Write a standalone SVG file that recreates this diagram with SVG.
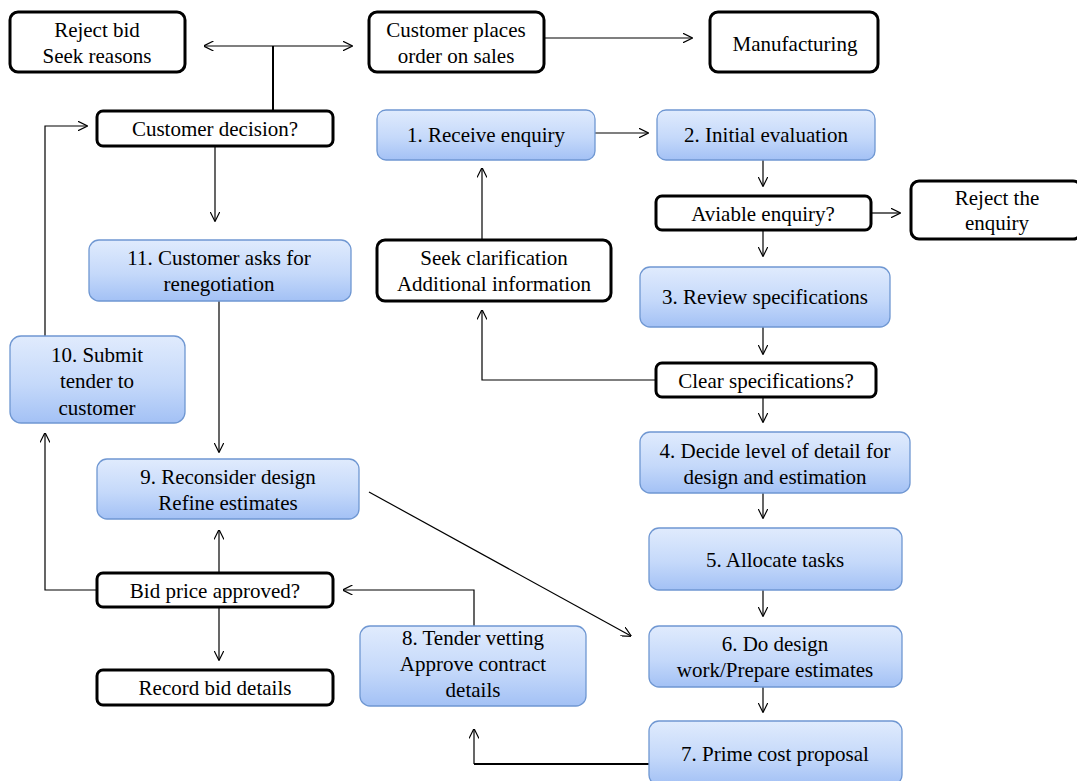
<svg xmlns="http://www.w3.org/2000/svg" width="1077" height="781" viewBox="0 0 1077 781">
  <defs>
    <linearGradient id="blueFill" x1="0" y1="0" x2="0" y2="1">
      <stop offset="0" stop-color="#e0ebfd"/>
      <stop offset="0.55" stop-color="#c5d9fa"/>
      <stop offset="1" stop-color="#a3c1f5"/>
    </linearGradient>
    <marker id="arrow" viewBox="0 0 10 10" refX="9.5" refY="5" markerWidth="10" markerHeight="10" markerUnits="userSpaceOnUse" orient="auto-start-reverse">
      <path d="M0,0 L10,5 L0,10" fill="none" stroke="#000" stroke-width="1.2"/>
    </marker>
  </defs>
  <style>
    .step { fill: url(#blueFill); stroke: #6f97d2; stroke-width: 1.3; }
    .term { fill: #fff; stroke: #000; stroke-width: 3; }
    .lbl { font-family: "Liberation Serif", "Times New Roman", serif; font-size: 21px; fill: #000; text-anchor: middle; }
    .link { fill: none; stroke: #000; stroke-width: 1.2; }
    .thick { stroke-width: 2; }
  </style>
  <rect width="1077" height="781" fill="#fff"/>

  <!-- connectors -->
  <g id="connectors">
    <path class="link thick" d="M273,111 V46"/>
    <path class="link" d="M204,46 H352" marker-start="url(#arrow)" marker-end="url(#arrow)"/>
    <path class="link" d="M544,38 H692" marker-end="url(#arrow)"/>
    <path class="link" d="M215,146 V221" marker-end="url(#arrow)"/>
    <path class="link" d="M595,133 H648" marker-end="url(#arrow)"/>
    <path class="link" d="M763,160 V186" marker-end="url(#arrow)"/>
    <path class="link" d="M871,213 H900" marker-end="url(#arrow)"/>
    <path class="link" d="M763,230 V256" marker-end="url(#arrow)"/>
    <path class="link" d="M763,327 V354" marker-end="url(#arrow)"/>
    <path class="link" d="M656,380 H482 V310" marker-end="url(#arrow)"/>
    <path class="link" d="M482,240 V168" marker-end="url(#arrow)"/>
    <path class="link" d="M763,397 V422" marker-end="url(#arrow)"/>
    <path class="link" d="M763,493 V518" marker-end="url(#arrow)"/>
    <path class="link" d="M763,590 V616" marker-end="url(#arrow)"/>
    <path class="link" d="M763,687 V712" marker-end="url(#arrow)"/>
    <path class="link thick" d="M649,764 H474"/>
    <path class="link" d="M474,764 V729" marker-end="url(#arrow)"/>
    <path class="link" d="M474,626 V590 H343" marker-end="url(#arrow)"/>
    <path class="link" d="M219,573 V530" marker-end="url(#arrow)"/>
    <path class="link" d="M219,607 V660" marker-end="url(#arrow)"/>
    <path class="link" d="M97,590 H45 V433" marker-end="url(#arrow)"/>
    <path class="link" d="M45,336 V126 H87" marker-end="url(#arrow)"/>
    <path class="link" d="M219,301 V452" marker-end="url(#arrow)"/>
    <path class="link" d="M369,492 L631,636" marker-end="url(#arrow)"/>
  </g>

  <!-- terminal / decision boxes -->
  <g id="reject-bid">
    <rect class="term" x="10" y="12" width="175" height="60" rx="8"/>
    <text class="lbl" x="97" y="37">Reject bid</text>
    <text class="lbl" x="97" y="63">Seek reasons</text>
  </g>
  <g id="customer-places-order">
    <rect class="term" x="369" y="12" width="175" height="60" rx="8"/>
    <text class="lbl" x="456" y="37">Customer places</text>
    <text class="lbl" x="456" y="63">order on sales</text>
  </g>
  <g id="manufacturing">
    <rect class="term" x="710" y="12" width="168" height="60" rx="8"/>
    <text class="lbl" x="795" y="51">Manufacturing</text>
  </g>
  <g id="customer-decision">
    <rect class="term" x="97" y="111" width="236" height="35" rx="6"/>
    <text class="lbl" x="215" y="136">Customer decision?</text>
  </g>
  <g id="viable-enquiry">
    <rect class="term" x="656" y="196" width="215" height="34" rx="6"/>
    <text class="lbl" x="763" y="221">Aviable enquiry?</text>
  </g>
  <g id="reject-enquiry">
    <rect class="term" x="911" y="181" width="170" height="58" rx="8"/>
    <text class="lbl" x="997" y="205">Reject the</text>
    <text class="lbl" x="997" y="230">enquiry</text>
  </g>
  <g id="seek-clarification">
    <rect class="term" x="377" y="240" width="234" height="61" rx="8"/>
    <text class="lbl" x="494" y="265">Seek clarification</text>
    <text class="lbl" x="494" y="291">Additional information</text>
  </g>
  <g id="clear-specifications">
    <rect class="term" x="656" y="363" width="220" height="34" rx="6"/>
    <text class="lbl" x="766" y="388">Clear specifications?</text>
  </g>
  <g id="bid-price-approved">
    <rect class="term" x="97" y="573" width="236" height="34" rx="6"/>
    <text class="lbl" x="215" y="598">Bid price approved?</text>
  </g>
  <g id="record-bid-details">
    <rect class="term" x="97" y="670" width="236" height="35" rx="6"/>
    <text class="lbl" x="215" y="695">Record bid details</text>
  </g>

  <!-- numbered process steps -->
  <g id="step-1">
    <rect class="step" x="377" y="110" width="218" height="50" rx="9"/>
    <text class="lbl" x="486" y="142">1. Receive enquiry</text>
  </g>
  <g id="step-2">
    <rect class="step" x="657" y="110" width="218" height="50" rx="9"/>
    <text class="lbl" x="766" y="142">2. Initial evaluation</text>
  </g>
  <g id="step-3">
    <rect class="step" x="640" y="267" width="250" height="60" rx="10"/>
    <text class="lbl" x="765" y="304">3. Review specifications</text>
  </g>
  <g id="step-4">
    <rect class="step" x="640" y="432" width="270" height="61" rx="10"/>
    <text class="lbl" x="775" y="458">4. Decide level of detail for</text>
    <text class="lbl" x="775" y="484">design and estimation</text>
  </g>
  <g id="step-5">
    <rect class="step" x="649" y="528" width="253" height="62" rx="10"/>
    <text class="lbl" x="775" y="567">5. Allocate tasks</text>
  </g>
  <g id="step-6">
    <rect class="step" x="649" y="626" width="253" height="61" rx="10"/>
    <text class="lbl" x="775" y="651">6. Do design</text>
    <text class="lbl" x="775" y="677">work/Prepare estimates</text>
  </g>
  <g id="step-7">
    <rect class="step" x="649" y="721" width="253" height="64" rx="10"/>
    <text class="lbl" x="775" y="761">7. Prime cost proposal</text>
  </g>
  <g id="step-8">
    <rect class="step" x="360" y="626" width="226" height="80" rx="10"/>
    <text class="lbl" x="473" y="645">8. Tender vetting</text>
    <text class="lbl" x="473" y="671">Approve contract</text>
    <text class="lbl" x="473" y="697">details</text>
  </g>
  <g id="step-9">
    <rect class="step" x="97" y="459" width="262" height="60" rx="10"/>
    <text class="lbl" x="228" y="484">9. Reconsider design</text>
    <text class="lbl" x="228" y="510">Refine estimates</text>
  </g>
  <g id="step-10">
    <rect class="step" x="10" y="336" width="175" height="87" rx="11"/>
    <text class="lbl" x="97" y="362">10. Submit</text>
    <text class="lbl" x="97" y="388">tender to</text>
    <text class="lbl" x="97" y="415">customer</text>
  </g>
  <g id="step-11">
    <rect class="step" x="89" y="240" width="262" height="61" rx="10"/>
    <text class="lbl" x="219" y="265">11. Customer asks for</text>
    <text class="lbl" x="219" y="291">renegotiation</text>
  </g>
</svg>
